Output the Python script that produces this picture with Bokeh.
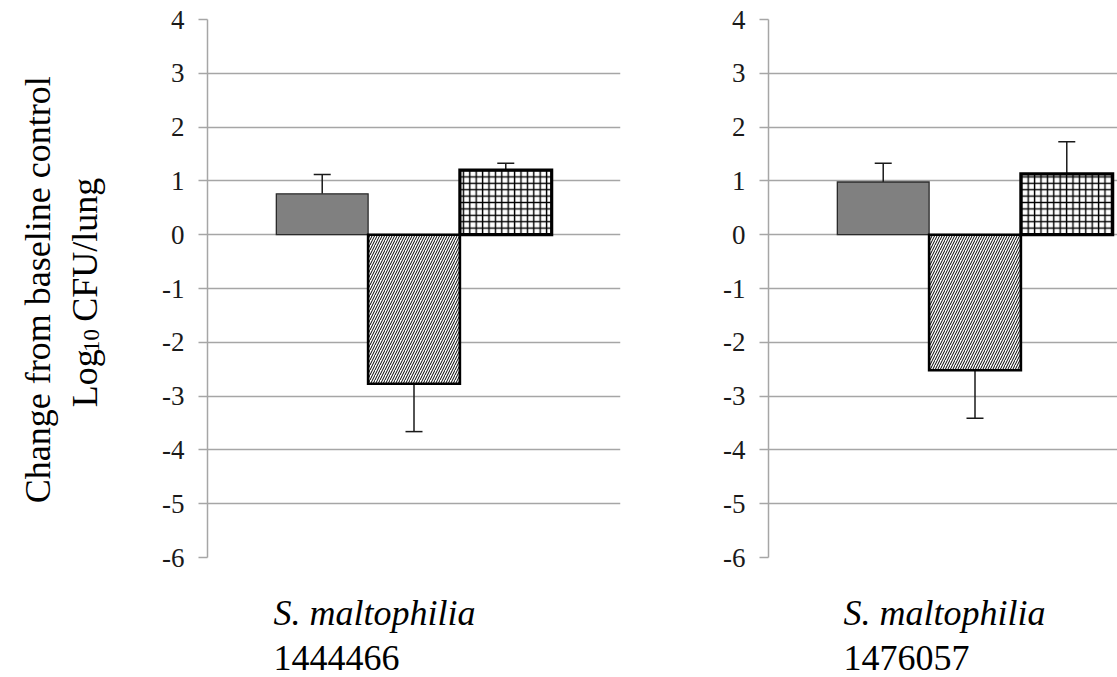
import math

from bokeh.embed import file_html
from bokeh.layouts import column, row
from bokeh.models import ColumnDataSource, FixedTicker, Label, Range1d, TeeHead, Whisker
from bokeh.plotting import figure
from bokeh.resources import INLINE

# ---- data -----------------------------------------------------------------
strain_names = ["S. maltophilia", "S. maltophilia"]
strain_ids = ["1444466", "1476057"]

# change from baseline control, log10 CFU/lung (three treatment groups per strain)
change_1444466 = [0.76, -2.77, 1.20]
error_1444466 = [0.36, 0.89, 0.13]
change_1476057 = [0.98, -2.52, 1.13]
error_1476057 = [0.35, 0.89, 0.60]

y_ticks = [-6, -5, -4, -3, -2, -1, 0, 1, 2, 3, 4]
y_tick_labels = ["-6", "-5", "-4", "-3", "-2", "-1", "0", "1", "2", "3", "4"]

# ---- styling --------------------------------------------------------------
FONT = "Liberation Serif"
GRID = "#a6a6a6"
PAGE_W = 1117
PAGE_H = 677
TITLE_W = 120          # strip holding the rotated y title
FRAME_W = 413          # full width of one panel's plotting frame (px)
FRAME_H = 538
TOP = 19
UNDER = 16             # room under the frame for the lowest tick label
CHART_H = TOP + FRAME_H + UNDER
BAR_W = 2 / 9          # fraction of the category width taken by one bar

bar_fill = ["#808080", "white", "white"]
bar_line = ["#2b2b2b", "black", "black"]
bar_line_w = [1.3, 2.6, 3.2]
bar_hatch = [None, "/", "+"]
bar_hatch_scale = [6, 5.0, 6.4]
bar_hatch_weight = [1, 1.0, 1.4]


def blank(width, height):
    """A figure whose data coordinates are its own pixels (origin bottom-left)."""
    f = figure(width=width, height=height, x_range=Range1d(0, width),
               y_range=Range1d(0, height), output_backend="svg",
               toolbar_location=None, min_border=0)
    f.axis.visible = False
    f.grid.visible = False
    f.outline_line_color = None
    f.background_fill_color = "white"
    f.border_fill_color = "white"
    return f


def text(f, x, y, s, size, angle=0.0, align="left", style="normal"):
    f.add_layout(Label(x=x, y=y, text=s, angle=angle, text_font=FONT,
                       text_font_size=size, text_font_style=style,
                       text_color="black", text_align=align,
                       text_baseline="alphabetic"))


def panel(values, errors, left_border, right_border, visible_frac):
    width = left_border + int(round(FRAME_W * visible_frac)) + right_border
    p = figure(width=width, height=CHART_H,
               x_range=Range1d(0, visible_frac), y_range=Range1d(-6, 4),
               output_backend="svg", toolbar_location=None,
               min_border_left=left_border, min_border_right=right_border,
               min_border_top=TOP, min_border_bottom=UNDER)
    p.outline_line_color = None
    p.background_fill_color = "white"
    p.border_fill_color = "white"

    p.xaxis.visible = False
    p.xgrid.visible = False
    p.ygrid.ticker = FixedTicker(ticks=y_ticks)
    p.ygrid.grid_line_color = GRID
    p.ygrid.grid_line_width = 1.5

    ax = p.yaxis[0]
    ax.ticker = FixedTicker(ticks=y_ticks)
    ax.major_label_overrides = {t: s for t, s in zip(y_ticks, y_tick_labels)}
    ax.axis_line_color = GRID
    ax.axis_line_width = 1.5
    ax.major_tick_line_color = GRID
    ax.major_tick_line_width = 1.5
    ax.major_tick_out = 9
    ax.major_tick_in = 0
    ax.minor_tick_line_color = None
    ax.major_label_text_font = FONT
    ax.major_label_text_font_size = "27px"
    ax.major_label_text_color = "#1a1a1a"
    ax.major_label_standoff = 14

    centers = [0.5 + (i - 1) * BAR_W for i in range(len(values))]
    for i, (xc, v) in enumerate(zip(centers, values)):
        kw = dict(x=[xc], top=[v], bottom=[0], width=BAR_W,
                  fill_color=bar_fill[i], line_color=bar_line[i],
                  line_width=bar_line_w[i], line_join="miter")
        if bar_hatch[i]:
            kw.update(hatch_pattern=bar_hatch[i], hatch_color="black",
                      hatch_scale=bar_hatch_scale[i], hatch_weight=bar_hatch_weight[i])
        p.vbar(**kw)

    # one-sided error bars pointing away from zero
    tips = [v + math.copysign(e, v) for v, e in zip(values, errors)]
    src = ColumnDataSource(dict(x=centers, base=values, tip=tips))
    p.add_layout(Whisker(source=src, base="x", lower="base", upper="tip",
                         dimension="height", line_color="#1a1a1a", line_width=1.5,
                         lower_head=None,
                         upper_head=TeeHead(size=17, line_color="#1a1a1a", line_width=1.5)))
    return p


# rotated y title, two lines, with a true subscript in "Log10"
title_strip = blank(TITLE_W, CHART_H)
up = math.pi / 2
text(title_strip, 37, 290, "Change  from baseline control", "36px", up, "center")
text(title_strip, 84, 160, "Log", "36px", up)
text(title_strip, 91, 219, "10", "23px", up)
text(title_strip, 84, 251, "CFU/lung", "36px", up)

left = panel(change_1444466, error_1444466, left_border=207 - TITLE_W,
             right_border=20, visible_frac=1.0)
right_left_border = 128
right_visible = (PAGE_W - TITLE_W - left.width - right_left_border) / FRAME_W
right = panel(change_1476057, error_1476057, left_border=right_left_border,
              right_border=0, visible_frac=right_visible)

# category names under each panel
names_strip = blank(PAGE_W, PAGE_H - CHART_H)
for x0, name, ident in zip([273, 843], strain_names, strain_ids):
    text(names_strip, x0, 65, name, "36px", style="italic")
    text(names_strip, x0, 20, ident, "36px")

layout = column(row(title_strip, left, right, spacing=0), names_strip, spacing=0)
open("out.html", "w").write(file_html(layout, INLINE))
